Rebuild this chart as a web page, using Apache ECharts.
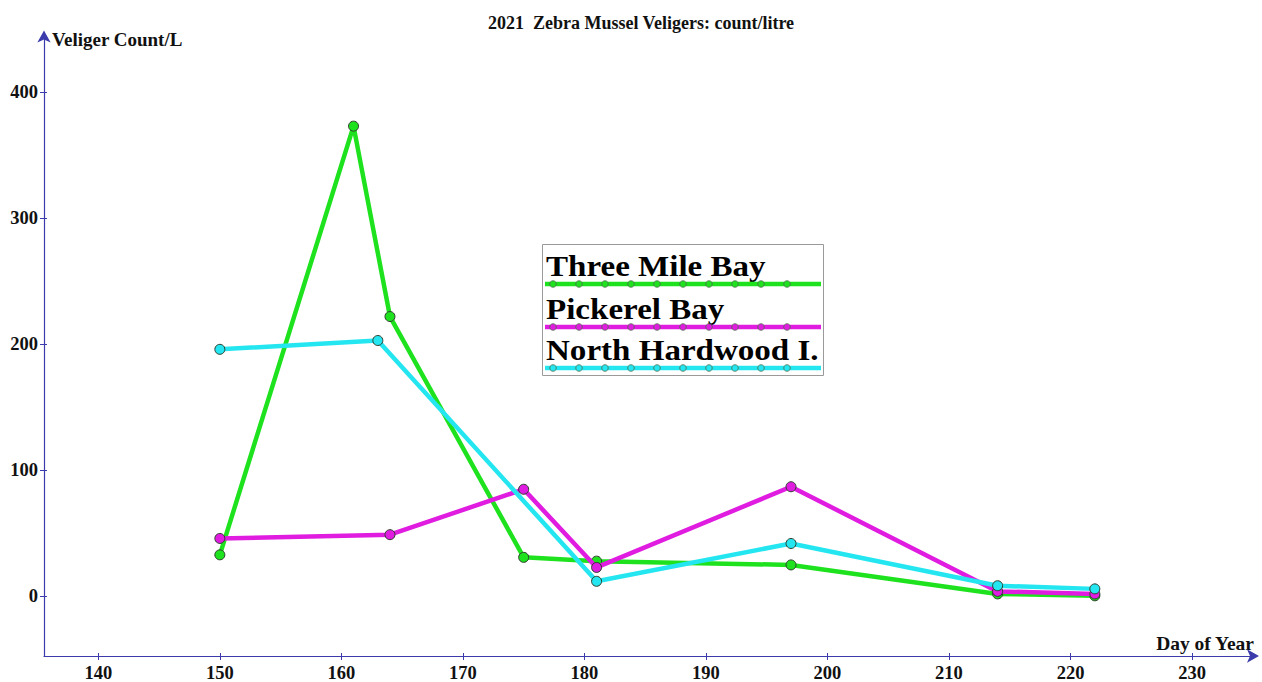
<!DOCTYPE html>
<html>
<head>
<meta charset="utf-8">
<script src="https://cdn.jsdelivr.net/npm/echarts@6/dist/echarts.min.js"></script>
<style>
html,body{margin:0;padding:0;background:#fff;}
#chart{width:1262px;height:682px;}
</style>
</head>
<body>
<div id="chart"></div>
<script>
// ---- data ----
const titleText = '2021  Zebra Mussel Veligers: count/litre';
const yAxisName = 'Veliger Count/L';
const xAxisName = 'Day of Year';
const seriesNames = ['Three Mile Bay', 'Pickerel Bay', 'North Hardwood I.'];
const seriesColors = ['#1fe21f', '#e01ce0', '#24e6f0'];
const threeMileDays = [150, 161, 164, 175, 181, 197, 214, 222];
const threeMileVals = [33, 373, 222, 31, 28, 25, 2, 0.5];
const pickerelDays = [150, 164, 175, 181, 197, 214, 222];
const pickerelVals = [46, 49, 85, 23, 87, 4, 2];
const hardwoodDays = [150, 163, 181, 197, 214, 222];
const hardwoodVals = [196, 203, 12, 42, 8.5, 6];
const xTicks = [140, 150, 160, 170, 180, 190, 200, 210, 220, 230];
const yTicks = [0, 100, 200, 300, 400];

const FONT = '"Liberation Serif", "Times New Roman", serif';
const AXIS_COLOR = '#3b3bab';
const X_MIN = 135.53, X_MAX = 235.18, Y_MIN = -47.24, Y_MAX = 445.7;

function pairs(xs, ys) { return xs.map((x, i) => [x, ys[i]]); }
const seriesData = [pairs(threeMileDays, threeMileVals), pairs(pickerelDays, pickerelVals), pairs(hardwoodDays, hardwoodVals)];

// legend built from series names/colors
const legendX0 = 545, legendX1 = 821;
const legendLineY = [284, 327, 368];
const legendEls = [{
  type: 'rect', shape: {x: 542.5, y: 244.5, width: 281, height: 131},
  style: {fill: '#fff', stroke: '#9a9a9a', lineWidth: 1}, z: 100
}];
seriesNames.forEach((name, i) => {
  const ly = legendLineY[i];
  legendEls.push({
    type: 'text', z: 101, x: 546, y: ly - 18, scaleX: 1.14,
    style: {text: name, x: 0, y: 0, font: 'bold 29px ' + FONT, fill: '#000', align: 'left', verticalAlign: 'middle'}
  });
  legendEls.push({
    type: 'line', z: 101,
    shape: {x1: legendX0, y1: ly, x2: legendX1, y2: ly},
    style: {stroke: seriesColors[i], lineWidth: 4.5}
  });
  for (let j = 0; j < 10; j++) {
    legendEls.push({
      type: 'circle', z: 102,
      shape: {cx: 553 + 26 * j, cy: ly, r: 3.3},
      style: {fill: seriesColors[i], stroke: '#4a6a4a', lineWidth: 0.8}
    });
  }
});

const labelFont = {fontFamily: FONT, fontWeight: 'bold', fontSize: 18.5, color: '#111'};

const chart = echarts.init(document.getElementById('chart'), null, {renderer: 'svg'});
chart.setOption({
  animation: false,
  backgroundColor: '#fff',
  title: {
    text: titleText, left: 636, top: 9, textAlign: 'center',
    textStyle: {fontFamily: FONT, fontWeight: 'bold', fontSize: 18, color: '#111'}
  },
  grid: {left: 44, right: 7, top: 34.5, bottom: 21.5, containLabel: false},
  xAxis: [{
    type: 'value', min: X_MIN, max: X_MAX, position: 'bottom',
    name: xAxisName, nameLocation: 'end', nameGap: -1,
    nameTextStyle: {fontFamily: FONT, fontWeight: 'bold', fontSize: 19.5, color: '#111', align: 'right', verticalAlign: 'bottom', padding: [0, 0, 3, 0]},
    axisLine: {show: true, onZero: false, symbol: ['none', 'arrow'], symbolSize: [10, 12], symbolOffset: [0, 4], lineStyle: {color: AXIS_COLOR, width: 1.2}},
    axisTick: {show: true, length: 4, customValues: xTicks, lineStyle: {color: AXIS_COLOR}},
    axisLabel: Object.assign({customValues: xTicks, margin: 7}, labelFont),
    splitLine: {show: false}
  }, {
    type: 'value', min: X_MIN, max: X_MAX, position: 'bottom',
    axisLine: {show: false, onZero: false},
    axisTick: {show: true, inside: true, length: 3, customValues: xTicks, lineStyle: {color: AXIS_COLOR}},
    axisLabel: {show: false},
    splitLine: {show: false}
  }],
  yAxis: [{
    type: 'value', min: Y_MIN, max: Y_MAX, position: 'left',
    name: yAxisName, nameLocation: 'end', nameGap: -5,
    nameTextStyle: {fontFamily: FONT, fontWeight: 'bold', fontSize: 19, color: '#111', align: 'left', verticalAlign: 'middle', padding: [0, 0, 0, 8]},
    axisLine: {show: true, onZero: false, symbol: ['none', 'arrow'], symbolSize: [10, 12], symbolOffset: [0, 4], lineStyle: {color: AXIS_COLOR, width: 1.2}},
    axisTick: {show: true, length: 4, customValues: yTicks, lineStyle: {color: AXIS_COLOR}},
    axisLabel: Object.assign({customValues: yTicks, margin: 6}, labelFont),
    splitLine: {show: false}
  }, {
    type: 'value', min: Y_MIN, max: Y_MAX, position: 'left',
    axisLine: {show: false, onZero: false},
    axisTick: {show: true, inside: true, length: 3, customValues: yTicks, lineStyle: {color: AXIS_COLOR}},
    axisLabel: {show: false},
    splitLine: {show: false}
  }],
  series: seriesNames.map((name, i) => ({
    name: name, type: 'line', data: seriesData[i],
    xAxisIndex: 0, yAxisIndex: 0,
    symbol: 'circle', symbolSize: 10, showSymbol: true,
    lineStyle: {color: seriesColors[i], width: 4.5},
    itemStyle: {color: seriesColors[i], borderColor: '#2d3d2d', borderWidth: 1},
    z: 2 + i
  })),
  graphic: legendEls
});
</script>
</body>
</html>
